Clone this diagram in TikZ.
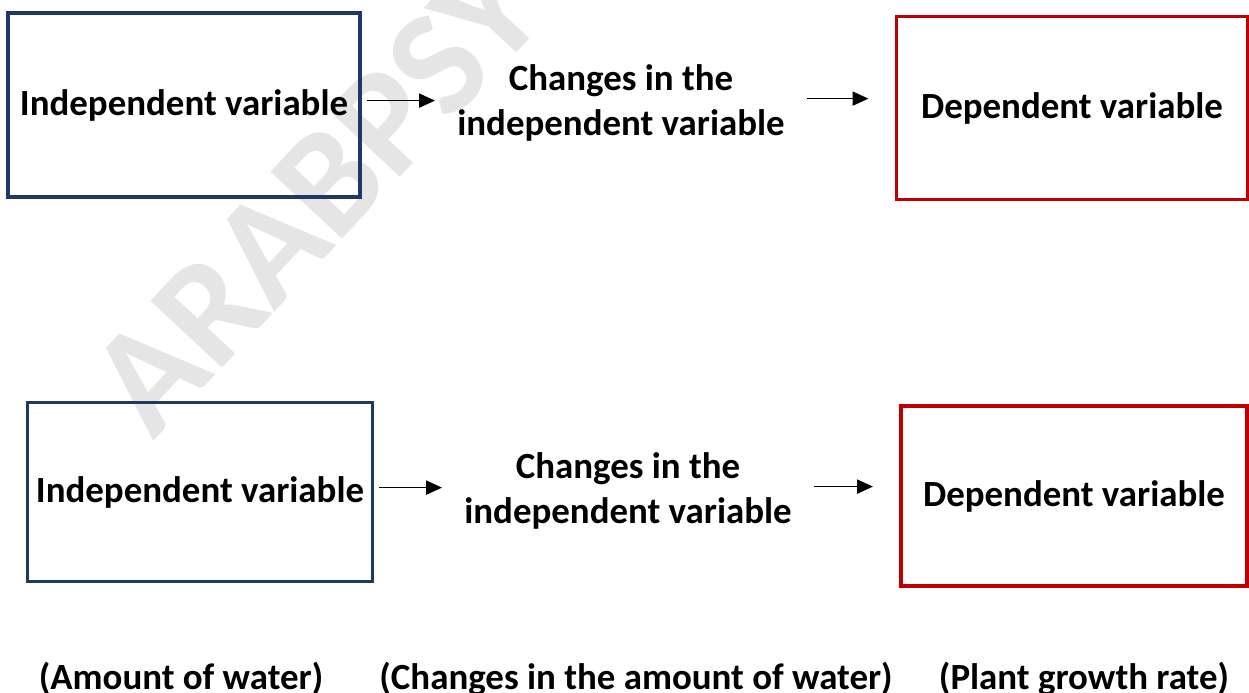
\documentclass[tikz,border=0pt]{standalone}
\usepackage{fontspec}
\setmainfont{Carlito}
\usetikzlibrary{arrows.meta}

\definecolor{navy}{HTML}{203864}
\definecolor{darkred}{HTML}{C00000}

\tikzset{
  varbox/.style={draw, line width=2pt, inner sep=0pt, font=\fontsize{21}{26}\selectfont\bfseries},
  indbox/.style={varbox, draw=navy},
  depbox/.style={varbox, draw=darkred},
  change/.style={align=center, inner xsep=0.44cm, font=\fontsize{21}{26}\selectfont\bfseries},
  flow/.style={-{Triangle[length=9pt,width=8pt]}, line width=0.9pt},
  note/.style={anchor=base, font=\fontsize{21}{26}\selectfont\bfseries}
}

\begin{document}
\begin{tikzpicture}[x=0.02cm, y=-0.02cm]
    \useasboundingbox (0,0) rectangle (1249,693);

    % Watermark
    \node[rotate=47, text=black!10, font=\fontsize{86}{86}\selectfont\bfseries] (mark) at (316,196) {ARABPSY};

    % Top row
    \node[indbox, minimum width=7.04cm, minimum height=3.68cm] (ind1) at (184,105) {Independent variable};
    \node[change] (mid1) at (621,103) {Changes in the\\independent variable};
    \node[depbox, minimum width=7.02cm, minimum height=3.66cm] (dep1) at (1072,108) {Dependent variable};

    \draw[flow, shorten <=3pt] ([yshift=2.5pt]ind1.east) -- ([yshift=2.5pt]ind1.east -| mid1.west);
    \draw[flow, shorten >=15pt] ([yshift=2.5pt]mid1.east) -- ([yshift=2.5pt]mid1.east -| dep1.west);

    % Bottom row
    \node[indbox, minimum width=6.9cm, minimum height=3.58cm] (ind2) at (200,492) {Independent variable};
    \node[change] (mid2) at (628,491) {Changes in the\\independent variable};
    \node[depbox, minimum width=6.92cm, minimum height=3.6cm] (dep2) at (1074,496) {Dependent variable};

    \draw[flow, shorten <=3pt] ([yshift=2.5pt]ind2.east) -- ([yshift=2.5pt]ind2.east -| mid2.west);
    \draw[flow, shorten >=15pt] ([yshift=2.5pt]mid2.east) -- ([yshift=2.5pt]mid2.east -| dep2.west);

    % What is meant in the example
    \node[note] (water) at (181,689) {(Amount of water)};
    \node[note] (change) at (636,689) {(Changes in the amount of water)};
    \node[note] (growth) at (1084,689) {(Plant growth rate)};
\end{tikzpicture}
\end{document}
